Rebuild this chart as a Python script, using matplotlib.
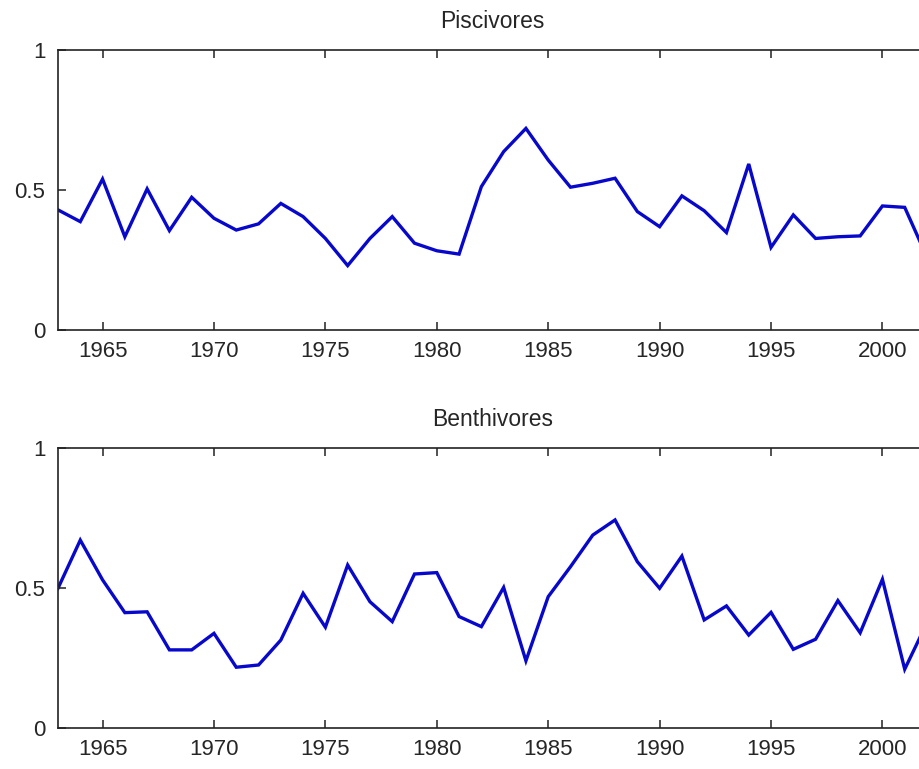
import matplotlib
matplotlib.use("Agg")
import matplotlib.pyplot as plt

years = list(range(1963, 2003))

piscivores = [0.429, 0.387, 0.539, 0.333, 0.504, 0.355, 0.474, 0.399, 0.357, 0.379,
              0.452, 0.405, 0.327, 0.230, 0.327, 0.405, 0.310, 0.283, 0.271, 0.512,
              0.637, 0.720, 0.607, 0.510, 0.524, 0.542, 0.423, 0.369, 0.479, 0.426,
              0.348, 0.593, 0.295, 0.411, 0.327, 0.333, 0.336, 0.443, 0.438, 0.26]

benthivores = [0.499, 0.671, 0.529, 0.412, 0.415, 0.279, 0.279, 0.338, 0.217, 0.225,
               0.314, 0.481, 0.360, 0.582, 0.451, 0.380, 0.550, 0.555, 0.398, 0.362,
               0.502, 0.240, 0.469, 0.576, 0.689, 0.743, 0.594, 0.499, 0.614, 0.386,
               0.436, 0.332, 0.413, 0.281, 0.317, 0.455, 0.340, 0.531, 0.210, 0.376]

titles = ["Piscivores", "Benthivores"]
xticks = [1965, 1970, 1975, 1980, 1985, 1990, 1995, 2000]
yticks = [0, 0.5, 1]
yticklabels = ["0", "0.5", "1"]

plt.rcParams['font.family'] = ['Liberation Sans', 'DejaVu Sans']

W, H = 920, 769
fig = plt.figure(figsize=(W / 100, H / 100), dpi=100)
fig.patch.set_facecolor('white')

left_px, right_px = 58, 927
tops = [50, 448]
height_px = 280

for title, series, top in zip(titles, [piscivores, benthivores], tops):
    ax = fig.add_axes([left_px / W, (H - top - height_px) / H,
                       (right_px - left_px) / W, height_px / H])
    ax.plot(years, series, color='#0808cc', linewidth=2.4, solid_joinstyle='miter')
    ax.set_xlim(1963, 2002)
    ax.set_ylim(0, 1)
    ax.set_xticks(xticks)
    ax.set_xticklabels([str(x) for x in xticks])
    ax.set_yticks(yticks)
    ax.set_yticklabels(yticklabels)
    ax.tick_params(direction='in', top=True, right=True, length=6, width=1.1,
                   colors='#222222', labelsize=16, labelcolor='#262626')
    ax.tick_params(axis='x', pad=8)
    ax.tick_params(axis='y', pad=9)
    for s in ax.spines.values():
        s.set_linewidth(1.2)
        s.set_color('#222222')
    ax.set_title(title, fontsize=16.5, color='#262626', pad=16)

fig.savefig("out.png", dpi=100)
